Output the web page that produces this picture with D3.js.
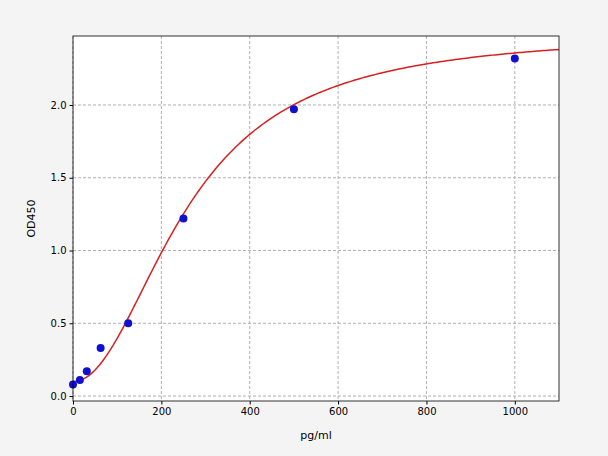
<!DOCTYPE html>
<html>
<head>
<meta charset="utf-8">
<script src="https://cdn.jsdelivr.net/npm/d3@7"></script>
<style>
body { margin: 0; background: #f4f4f4; }
text { font-family: "DejaVu Sans", sans-serif; }
</style>
</head>
<body>
<svg id="chart" width="608" height="456"></svg>
<script>
// standard concentrations and measured OD
var conc = [0, 15.6, 31.25, 62.5, 125, 250, 500, 1000];
var od = [0.08, 0.11, 0.17, 0.33, 0.50, 1.22, 1.97, 2.32];
var xTicks = [0, 200, 400, 600, 800, 1000];
var yTicks = [0.0, 0.5, 1.0, 1.5, 2.0];
// 4PL fit parameters (bottom, top, ec50, slope)
var fitA = 0.1, fitD = 2.5, fitC = 260, fitB = 2.05;

var svg = d3.select('#chart');
var pLeft = 73, pRight = 559, pTop = 36, pBottom = 401;

var x = d3.scaleLinear().domain([0, 1100]).range([pLeft, pRight]);
var y = d3.scaleLinear().domain([-0.034, 2.474]).range([pBottom, pTop]);

svg.append('rect')
  .attr('x', pLeft).attr('y', pTop)
  .attr('width', pRight - pLeft).attr('height', pBottom - pTop)
  .attr('fill', 'white');

// grid
svg.append('g').selectAll('line').data(xTicks).enter().append('line')
  .attr('x1', d => x(d)).attr('x2', d => x(d))
  .attr('y1', pTop).attr('y2', pBottom)
  .attr('stroke', '#b0b0b0').attr('stroke-dasharray', '3,2');
svg.append('g').selectAll('line').data(yTicks).enter().append('line')
  .attr('y1', d => y(d)).attr('y2', d => y(d))
  .attr('x1', pLeft).attr('x2', pRight)
  .attr('stroke', '#b0b0b0').attr('stroke-dasharray', '3,2');

// axes
svg.append('g')
  .attr('transform', 'translate(0,' + pBottom + ')')
  .call(d3.axisBottom(x).tickValues(xTicks).tickSize(3.5).tickPadding(3).tickFormat(d3.format('d')))
  .call(g => g.select('.domain').remove())
  .selectAll('text').attr('font-size', 10).attr('fill', '#000');
svg.append('g')
  .attr('transform', 'translate(' + pLeft + ',0)')
  .call(d3.axisLeft(y).tickValues(yTicks).tickSize(3.5).tickPadding(3).tickFormat(d3.format('.1f')))
  .call(g => g.select('.domain').remove())
  .selectAll('text').attr('font-size', 10).attr('fill', '#000');

// fitted curve
var curveX = d3.range(0, 1101, 5);
var line = d3.line()
  .x(d => x(d))
  .y(d => y(fitD + (fitA - fitD) / (1 + Math.pow(d / fitC, fitB))));
svg.append('path').datum(curveX)
  .attr('d', line)
  .attr('fill', 'none')
  .attr('stroke', '#d62020')
  .attr('stroke-width', 1.5);

// points
svg.append('g').selectAll('circle').data(conc).enter().append('circle')
  .attr('cx', d => x(d))
  .attr('cy', (d, i) => y(od[i]))
  .attr('r', 4)
  .attr('fill', '#1010d0');

svg.append('rect')
  .attr('x', pLeft).attr('y', pTop)
  .attr('width', pRight - pLeft).attr('height', pBottom - pTop)
  .attr('fill', 'none').attr('stroke', '#000').attr('stroke-width', 0.8);

svg.append('text')
  .attr('x', (pLeft + pRight) / 2).attr('y', 439)
  .attr('text-anchor', 'middle').attr('font-size', 11)
  .text('pg/ml');
svg.append('text')
  .attr('transform', 'translate(35,' + ((pTop + pBottom) / 2) + ') rotate(-90)')
  .attr('text-anchor', 'middle').attr('font-size', 11)
  .text('OD450');
</script>
</body>
</html>
